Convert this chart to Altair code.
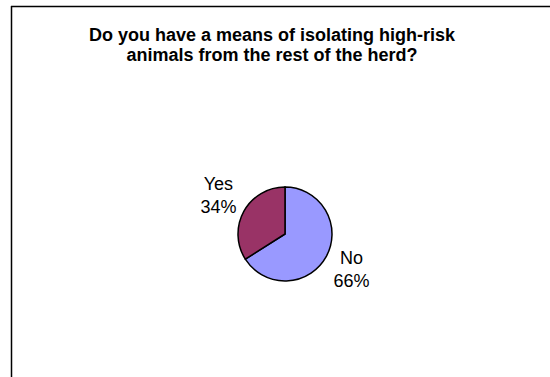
import altair as alt
import pandas as pd

title_lines = ["Do you have a means of isolating high-risk", "animals from the rest of the herd?"]
categories = ["No", "Yes"]
percents = [66, 34]
colors = ["#9999FF", "#993366"]

df = pd.DataFrame({
    "answer": categories,
    "pct": percents,
    "rank": list(range(len(categories))),
})
df["label"] = df["answer"] + "\n" + df["pct"].astype(str) + "%"

FONT = "Liberation Sans"
CX, CY = 285, 234

base = alt.Chart(df).encode(
    theta=alt.Theta("pct:Q", stack=True),
    order=alt.Order("rank:Q"),
    x=alt.value(CX),
    y=alt.value(CY),
)

pie = base.mark_arc(radius=47, stroke="black", strokeWidth=1.5).encode(
    color=alt.Color("answer:N", scale=alt.Scale(domain=categories, range=colors), legend=None)
)

labels = base.mark_text(radius=76, font=FONT, fontSize=18, lineBreak="\n",
                        lineHeight=23, align="center", baseline="middle", dy=-12,
                        color="black").encode(text="label:N")

title = alt.Chart(pd.DataFrame({"t": ["\n".join(title_lines)]})).mark_text(
    font=FONT, fontSize=18, fontWeight="bold", lineBreak="\n", lineHeight=20,
    align="center", baseline="alphabetic", color="black"
).encode(x=alt.value(272), y=alt.value(41), text="t:N")

border_top = alt.Chart(pd.DataFrame({"a": [0]})).mark_rule(color="black", strokeWidth=1.5).encode(
    x=alt.value(11), x2=alt.value(550), y=alt.value(6.5))
border_left = alt.Chart(pd.DataFrame({"a": [0]})).mark_rule(color="black", strokeWidth=1.5).encode(
    x=alt.value(11.5), y=alt.value(6), y2=alt.value(377))

chart = alt.layer(border_top, border_left, title, pie, labels).properties(
    width=550, height=377, padding=0,
    autosize=alt.AutoSizeParams(type="none"),
    background="white",
).configure_view(stroke=None)

chart.save("out.html", embed_options={"renderer": "svg", "actions": False})
